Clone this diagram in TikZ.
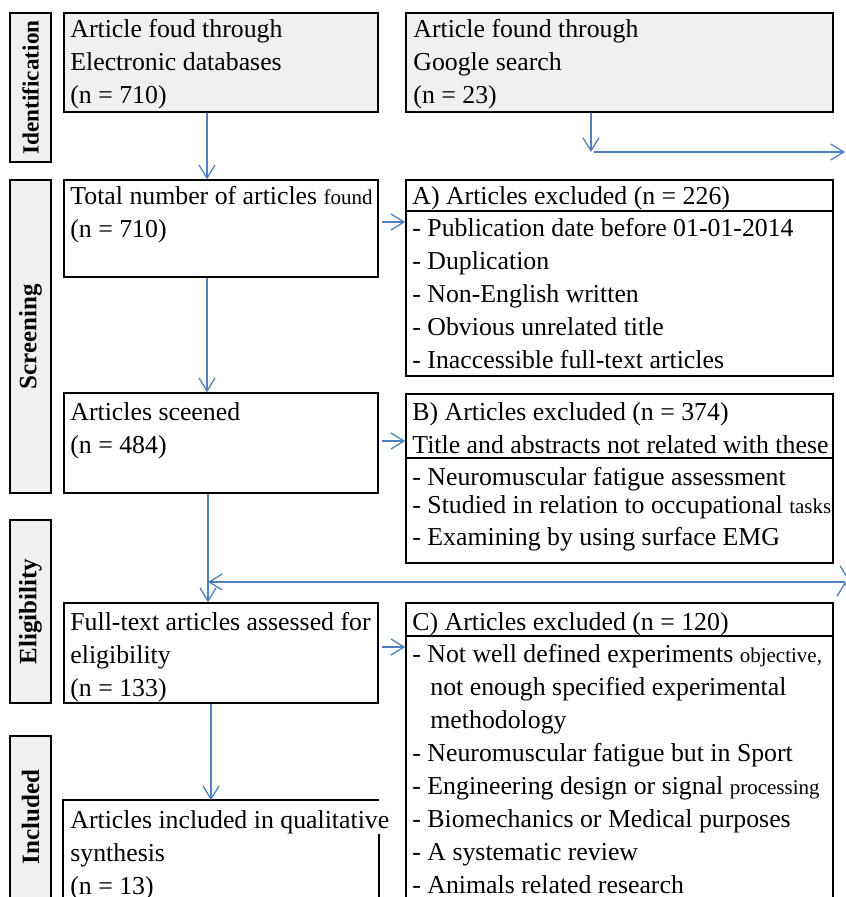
\documentclass[tikz,border=0pt]{standalone}
\usepackage{fontspec}
\setmainfont{Liberation Serif}
\usetikzlibrary{arrows.meta}
\definecolor{arrblue}{HTML}{4F81BD}
\definecolor{boxgray}{HTML}{F0F0F0}
\newcommand{\smallword}[1]{{\fontsize{10.5}{16.5}\selectfont #1}}
\newcommand{\lines}[1]{\begin{tabular}[t]{@{}l@{}}#1\end{tabular}}

\begin{document}
\begin{tikzpicture}[x=0.5pt,y=-0.5pt,
  box/.style={draw,line width=0.8pt,minimum width=157pt,inner sep=0pt},
  exbox/.style={draw,line width=0.8pt,minimum width=213.5pt,inner sep=0pt},
  stage/.style={draw,line width=0.8pt,fill=boxgray,rotate=90,minimum height=20.5pt,
    inner sep=0pt,font=\fontsize{12.5}{15}\selectfont\bfseries},
  txt/.style={anchor=base west,inner sep=0pt,font=\fontsize{12.9}{16.5}\selectfont},
  arr/.style={draw=arrblue,line width=0.65pt,-{Straight Barb[length=6.5pt,width=8pt]}}]
\useasboundingbox (0,0) rectangle (845,897);

% stage labels
\node[stage,minimum width=74.5pt,font=\fontsize{11.6}{14}\selectfont\bfseries] (sid) at (30.5,87.5) {Identification};
\node[stage,minimum width=156.5pt] (sscr) at (30.5,336.5) {Screening};
\node[stage,minimum width=91.5pt] (seli) at (30.5,611.5) {Eligibility};
\node[stage,minimum width=81pt] (sinc) at (30.5,817) {Included};

% left column
\node[box,fill=boxgray,minimum height=49.5pt] (db) at (221,62.5) {};
\node[box,minimum height=48.5pt] (tot) at (221,228.5) {};
\node[box,minimum height=50pt] (scn) at (221,443) {};
\node[box,minimum height=50pt] (ful) at (221,653) {};
\node[box,draw=none,minimum height=52pt] (inc) at (221,853) {};
\draw[line width=0.8pt] ([yshift=-17pt]inc.north east) -- (inc.south east)
  -- (inc.south west) -- (inc.north west) -- (inc.north east);

\node[txt] (dbt) at (70,38) {\lines{Article foud through\\Electronic databases\\(n = 710)}};
\node[txt] (tott) at (70,205) {\lines{Total number of articles \smallword{found}\\(n = 710)}};
\node[txt] (scnt) at (70,420) {\lines{Articles sceened\\(n = 484)}};
\node[txt] (fult) at (70,630) {\lines{Full-text articles assessed for\\eligibility\\(n = 133)}};
\node[txt] (inct) at (70,828) {\lines{Articles included in qualitative\\synthesis\\(n = 13)}};

% right column
\node[exbox,fill=boxgray,minimum height=49.5pt] (gs) at (619.5,62.5) {};
\node[exbox,minimum height=98pt] (exa) at (619.5,278) {};
\node[exbox,minimum height=84.5pt] (exb) at (619.5,478.5) {};
\node[exbox,minimum height=151pt] (exc) at (619.5,754) {};
\draw[line width=0.8pt] ([yshift=-16pt]exa.north west) -- ([yshift=-16pt]exa.north east);
\draw[line width=0.8pt] ([yshift=-32.5pt]exb.north west) -- ([yshift=-32.5pt]exb.north east);
\draw[line width=0.8pt] ([yshift=-17pt]exc.north west) -- ([yshift=-17pt]exc.north east);

\node[txt] (gst) at (413,38) {\lines{Article found through\\Google search\\(n = 23)}};
\node[txt] (exah) at (412,205) {A) Articles excluded (n = 226)};
\node[txt] (exal) at (412,237) {\lines{- Publication date before 01-01-2014\\- Duplication\\
  - Non-English written\\- Obvious unrelated title\\- Inaccessible full-text articles}};
\node[txt] (exbh) at (412,420) {\lines{B) Articles excluded (n = 374)\\Title and abstracts not related with these}};
\node[txt] (exbl) at (412,485) {\lines{- Neuromuscular fatigue assessment\\[-2.5pt]
  - Studied in relation to occupational \smallword{tasks}\\[-0.5pt]- Examining by using surface EMG}};
\node[txt] (exch) at (412,630) {C) Articles excluded (n = 120)};
\node[txt] (excl) at (412,662) {\lines{- Not well defined experiments \smallword{objective,}\\
  \hspace*{9pt}not enough specified experimental\\\hspace*{9pt}methodology\\
  - Neuromuscular fatigue but in Sport\\- Engineering design or signal \smallword{processing}\\
  - Biomechanics or Medical purposes\\- A systematic review\\- Animals related research}};

% free ends of the google branch
\coordinate (gturn) at (591,152);
\coordinate (gout) at (845,152);
\coordinate (rtop) at (848,540);
\coordinate (rbot) at (848,580);
\coordinate (rback) at (845,582);

\path[arr]
([xshift=-7pt]db.south) edge ([xshift=-7pt]tot.north)
([xshift=-7pt]tot.south) edge ([xshift=-7pt]scn.north)
([xshift=-6.5pt]scn.south) edge ([xshift=-6.5pt]ful.north)
([xshift=-5pt]ful.south) edge ([xshift=-5pt]inc.north)
([shift={(1.5pt,3.25pt)}]tot.east) edge ([yshift=3.25pt]tot.east -| exa.west)
([shift={(1.5pt,1pt)}]scn.east) edge ([yshift=1pt]scn.east -| exb.west)
([shift={(1.5pt,3pt)}]ful.east) edge ([yshift=3pt]ful.east -| exc.west)
([xshift=-14.25pt]gs.south) edge (gturn)
([xshift=1.5pt]gturn) edge (gout)
(rtop) edge (rbot)
(rback) edge ([xshift=-6.5pt]scn.south |- rback)
;
\end{tikzpicture}
\end{document}
